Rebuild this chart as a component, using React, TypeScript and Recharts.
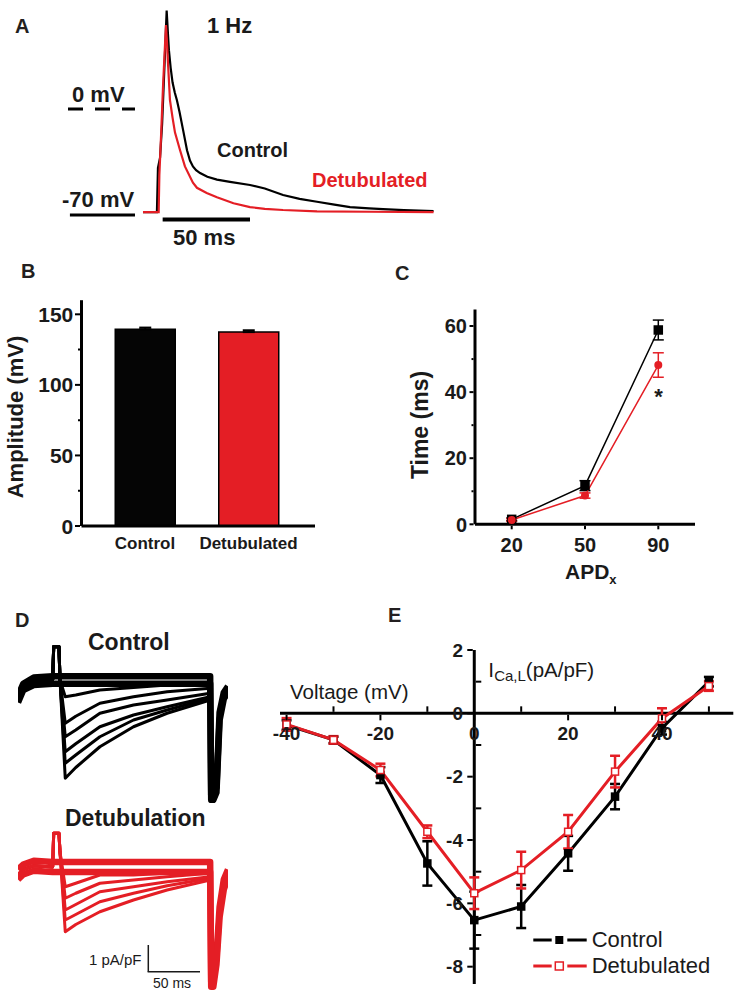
import React from 'react';
import { LineChart, Line, BarChart, Bar, Cell, XAxis, YAxis, ErrorBar, ReferenceLine } from 'recharts';

const FONT = '"Liberation Sans", Arial, Helvetica, sans-serif';
const BLACK = '#000000';
const RED = '#e41e25';
const INK = '#1a1a1a';

// ---------- Panel A: action potential traces (time ms, membrane potential mV)
const apCtrlTime = [0, 8.0, 8.6, 9.8, 11.0, 12.2, 13.6, 14.3, 14.9, 15.9, 17.0, 18.3, 19.5, 21, 23, 25.3, 27, 28.7, 30.5, 32.8, 37, 42.5, 50, 61.5, 70, 80.5, 90, 100, 110, 119, 130, 138, 150, 167];
const apCtrlVolt = [-70, -70, -40, -33, -10, 25, 67, 52, 40, 28, 18, 11, 6, -2, -14, -28, -35, -39, -41.5, -43.5, -46, -48, -49.5, -51.6, -54, -58.4, -61, -63, -65, -66.6, -67.5, -68, -68.7, -69.3];
const apDetTime = [0, 9.0, 9.4, 10.5, 11.5, 12.5, 13.2, 13.8, 14.5, 15.5, 17, 18.4, 21.3, 24.1, 28.7, 31, 36.6, 42.5, 52, 61.5, 70, 80.5, 100, 130, 167];
const apDetVolt = [-70, -70, -45, -15, 15, 40, 57, 45, 28.5, 6, -6, -16, -28, -39, -50, -53.5, -57, -60, -64, -66.6, -67.8, -68.6, -69.5, -69.8, -70];

// ---------- Panel B: amplitude
const groups = ['Control', 'Detubulated'];
const amplitudeMean = [139.4, 137.4];
const amplitudeSem = [1.2, 1.3];
const amplitudeTicks = [0, 25, 50, 75, 100, 125, 150];

// ---------- Panel C: APD
const apdLevels = ['20', '50', '90'];
const apdCtrl = [1.5, 11.7, 58.8];
const apdCtrlSem = [0.4, 1.5, 3.0];
const apdDet = [1.3, 8.7, 48.2];
const apdDetSem = [0.4, 0.8, 3.7];
const apdTicks = [0, 10, 20, 30, 40, 50, 60];

// ---------- Panel D: current sweeps (time ms, pA/pF)
const sweepTime = [0, 5, 15, 33, 34, 39, 40, 45, 55, 78, 110, 142, 183, 184, 186, 189, 192, 196, 200];
const ctrlSweeps = [
  [-0.8, -0.27, -0.07, 0, 1.33, 1.33, 0, -3.93, -3.5, -2.67, -1.87, -1.33, -0.8, -4.8, -4.8, -4.5, -1.5, -0.67, -0.4],
  [-0.8, -0.27, -0.07, 0, 1.33, 1.33, 0, -3.33, -3.0, -2.27, -1.6, -1.2, -0.73, -4.8, -4.8, -4.5, -1.5, -0.67, -0.4],
  [-0.8, -0.27, -0.07, 0, 1.33, 1.33, 0, -2.87, -2.55, -1.87, -1.4, -1.07, -0.67, -4.8, -4.8, -4.5, -1.5, -0.67, -0.4],
  [-0.8, -0.27, -0.07, 0, 1.33, 1.33, 0, -2.27, -2.0, -1.33, -1.0, -0.8, -0.53, -4.8, -4.8, -4.5, -1.5, -0.67, -0.4],
  [-0.8, -0.27, -0.07, 0, 1.33, 1.33, 0, -1.73, -1.45, -0.93, -0.67, -0.47, -0.33, -4.8, -4.8, -4.5, -1.5, -0.67, -0.4],
  [-0.8, -0.27, -0.07, 0, 1.33, 1.33, 0, -0.67, -0.6, -0.4, -0.3, -0.2, -0.13, -4.8, -4.8, -4.5, -1.5, -0.67, -0.4],
  [-0.65, -0.15, 0.1, 0.15, 0.15, 0.15, 0.15, 0.15, 0.15, 0.15, 0.15, 0.15, 0.15, -4.6, -4.6, -4.3, -1.3, -0.5, -0.25],
  [-0.9, -0.4, -0.2, -0.15, -0.15, -0.15, -0.15, -0.15, -0.15, -0.15, -0.15, -0.15, -0.15, -4.8, -4.8, -4.5, -1.6, -0.75, -0.5],
];
const detSweeps = [
  [-0.3, -0.1, 0.05, 0, 1.35, 1.35, 0.6, -2.59, -2.3, -1.79, -1.32, -0.92, -0.52, -4.79, -4.79, -3.8, -1.8, -0.7, -0.25],
  [-0.3, -0.1, 0.05, 0, 1.35, 1.35, 0.6, -2.12, -1.9, -1.39, -1.05, -0.75, -0.45, -4.79, -4.79, -3.8, -1.8, -0.7, -0.25],
  [-0.3, -0.1, 0.05, 0, 1.35, 1.35, 0.6, -1.72, -1.5, -0.99, -0.79, -0.59, -0.39, -4.79, -4.79, -3.8, -1.8, -0.7, -0.25],
  [-0.3, -0.1, 0.05, 0, 1.35, 1.35, 0.6, -1.25, -1.05, -0.65, -0.52, -0.39, -0.25, -4.79, -4.79, -3.8, -1.8, -0.7, -0.25],
  [-0.3, -0.1, 0.05, 0, 1.35, 1.35, 0.6, -0.79, -0.65, -0.32, -0.32, -0.25, -0.19, -4.79, -4.79, -3.8, -1.8, -0.7, -0.25],
  [-0.1, 0.1, 0.25, 0.2, 0.2, 0.2, 0.2, 0.2, 0.2, 0.2, 0.2, 0.2, 0.2, -4.6, -4.6, -3.6, -1.6, -0.5, -0.1],
  [-0.5, -0.3, -0.15, -0.2, -0.2, -0.2, -0.2, -0.2, -0.2, -0.2, -0.2, -0.2, -0.2, -4.79, -4.79, -3.9, -2.0, -0.9, -0.4],
];

// ---------- Panel E: I-V relation
const voltages = [-40, -30, -20, -10, 0, 10, 20, 30, 40, 50];
const ivCtrl = [-0.37, -0.84, -1.95, -4.74, -6.53, -6.1, -4.42, -2.63, -0.47, 1.0];
const ivCtrlSem = [0.15, 0.1, 0.25, 0.7, 0.9, 0.68, 0.55, 0.4, 0.2, 0.15];
const ivDet = [-0.35, -0.84, -1.79, -3.74, -5.68, -4.95, -3.74, -1.84, -0.16, 0.86];
const ivDetSem = [0.2, 0.12, 0.2, 0.2, 0.5, 0.58, 0.53, 0.5, 0.32, 0.15];
const ivXTicks = [-40, -30, -20, -10, 0, 10, 20, 30, 40, 50];
const ivYTicks = [-8, -7, -6, -5, -4, -3, -2, -1, 0, 1, 2];

// ---------- geometry
const E_W = 480;
const E_H = 353;
const E_M = { top: 10, right: 6.7, bottom: 7.9, left: 19 };
const E_XDOM: [number, number] = [-41.4, 55.2];
const E_YDOM: [number, number] = [-8.55, 2];
const E_LEFT = E_M.left + 1;
const E_TOP = E_M.top;
const ePlotW = E_W - E_LEFT - E_M.right;
const ePlotH = E_H - E_TOP - E_M.bottom - 1;
const eZeroX = E_LEFT + ((0 - E_XDOM[0]) / (E_XDOM[1] - E_XDOM[0])) * ePlotW;
const eZeroY = E_TOP + ((E_YDOM[1] - 0) / (E_YDOM[1] - E_YDOM[0])) * ePlotH;

const apCtrlData = apCtrlTime.map((t, i) => ({ t, v: apCtrlVolt[i] }));
const apDetData = apDetTime.map((t, i) => ({ t, v: apDetVolt[i] }));
const ampData = groups.map((g, i) => ({ name: g, value: amplitudeMean[i], err: [0, amplitudeSem[i]] }));
const apdData = apdLevels.map((l, i) => ({ apd: l, ctrl: apdCtrl[i], ctrlErr: apdCtrlSem[i], det: apdDet[i], detErr: apdDetSem[i] }));
const ivData = voltages.map((v, i) => ({ v, ctrl: ivCtrl[i], ctrlErr: ivCtrlSem[i], det: ivDet[i], detErr: ivDetSem[i] }));

function sweepData(sweeps: number[][]) {
  return sweepTime.map((t, i) => {
    const row: Record<string, number> = { t };
    sweeps.forEach((s, k) => { row['s' + k] = s[i]; });
    return row;
  });
}

const BYTick = (p: any) => {
  const v = p.payload.value;
  const major = v % 50 === 0;
  return (
    <g>
      <line x1={p.x - (major ? 6.5 : 3.5)} x2={p.x - 1.5} y1={p.y} y2={p.y} stroke={BLACK} strokeWidth={2} />
      {major && (
        <text x={p.x - 8.2} y={p.y} dy={7.5} textAnchor="end" fontFamily={FONT} fontWeight="bold" fontSize={21} fill={INK}>{v}</text>
      )}
    </g>
  );
};
const BXTick = (p: any) => (
  <text x={p.x} y={p.y + 23} textAnchor="middle" fontFamily={FONT} fontWeight="bold" fontSize={17} fill={INK}>{p.payload.value}</text>
);
const CYTick = (p: any) => {
  const v = p.payload.value;
  const major = v % 20 === 0;
  return (
    <g>
      <line x1={p.x - (major ? 5.5 : 3.5)} x2={p.x - 1.5} y1={p.y} y2={p.y} stroke={BLACK} strokeWidth={2} />
      {major && (
        <text x={p.x - 8} y={p.y} dy={7.2} textAnchor="end" fontFamily={FONT} fontWeight="bold" fontSize={20} fill={INK}>{v}</text>
      )}
    </g>
  );
};
const CXTick = (p: any) => (
  <g>
    <line x1={p.x} x2={p.x} y1={p.y + 1.5} y2={p.y + 5} stroke={BLACK} strokeWidth={2} />
    <text x={p.x} y={p.y + 27.4} textAnchor="middle" fontFamily={FONT} fontWeight="bold" fontSize={20} fill={INK}>{p.payload.value}</text>
  </g>
);
const EXTick = (p: any) => {
  const v = p.payload.value;
  const major = v % 20 === 0;
  return (
    <g>
      <line x1={p.x} x2={p.x} y1={major ? eZeroY + 1.5 : eZeroY - 1.5} y2={major ? eZeroY + 7 : eZeroY - 7} stroke={BLACK} strokeWidth={2} />
      {major && (
        <text x={p.x} y={eZeroY + 26.7} textAnchor="middle" fontFamily={FONT} fontWeight="bold" fontSize={19} fill={INK}>{String(v)}</text>
      )}
    </g>
  );
};
const EYTick = (p: any) => {
  const v = p.payload.value;
  const major = v % 2 === 0;
  return (
    <g>
      <line x1={major ? eZeroX - 7 : eZeroX + 1.5} x2={major ? eZeroX - 1.5 : eZeroX + 7} y1={p.y} y2={p.y} stroke={BLACK} strokeWidth={2} />
      {major && (
        <text x={eZeroX - 11.3} y={p.y} dy={6.7} textAnchor="end" fontFamily={FONT} fontWeight="bold" fontSize={19} fill={INK}>{String(v)}</text>
      )}
    </g>
  );
};

const squareDot = (size: number, fill: string, stroke: string) => (p: any) => {
  if (p.cx == null || p.cy == null) return <g key={`e-${p.index}`} />;
  return <rect key={`sq-${p.index}`} x={p.cx - size / 2} y={p.cy - size / 2} width={size} height={size} fill={fill} stroke={stroke} strokeWidth={1.5} />;
};
const circleDot = (r: number, fill: string) => (p: any) => {
  if (p.cx == null || p.cy == null) return <g key={`e-${p.index}`} />;
  return <circle key={`ci-${p.index}`} cx={p.cx} cy={p.cy} r={r} fill={fill} />;
};

function SweepChart({ top, color, sweeps }: { top: number; color: string; sweeps: number[][] }) {
  const data = sweepData(sweeps);
  return (
    <div style={{ position: 'absolute', left: 18, top }}>
      <LineChart width={210} height={163} data={data} margin={{ top: 0, right: 0, bottom: 0, left: 0 }}>
        <XAxis type="number" dataKey="t" domain={[0, 200]} hide allowDataOverflow />
        <YAxis type="number" domain={[-4.92, 1.6]} hide allowDataOverflow />
        {sweeps.map((s, k) => (
          <Line
            key={k}
            dataKey={'s' + k}
            stroke={color}
            strokeWidth={k >= sweeps.length - 2 ? 6.5 : 3}
            dot={false}
            isAnimationActive={false}
            strokeLinejoin="round"
          />
        ))}
      </LineChart>
    </div>
  );
}

type T = { x: number; y: number; s: number; t: string; b?: boolean; c?: string; anchor?: string };
const texts: T[] = [
  { x: 15, y: 33, s: 20, t: 'A', b: true, c: '#231f20' },
  { x: 207, y: 33, s: 22, t: '1 Hz', b: true },
  { x: 72, y: 101.5, s: 22, t: '0 mV', b: true },
  { x: 62, y: 206.5, s: 22, t: '-70 mV', b: true },
  { x: 217, y: 156.5, s: 20, t: 'Control', b: true },
  { x: 312, y: 186.5, s: 20, t: 'Detubulated', b: true, c: RED },
  { x: 173, y: 245, s: 22, t: '50 ms', b: true },
  { x: 21, y: 278, s: 20, t: 'B', b: true, c: '#231f20' },
  { x: 395, y: 280, s: 20, t: 'C', b: true, c: '#231f20' },
  { x: 658.5, y: 404, s: 22, t: '*', b: true, anchor: 'middle' },
  { x: 15, y: 627, s: 20, t: 'D', b: true, c: '#231f20' },
  { x: 88, y: 650, s: 23, t: 'Control', b: true },
  { x: 65, y: 826, s: 23, t: 'Detubulation', b: true },
  { x: 89, y: 965, s: 15, t: '1 pA/pF' },
  { x: 153, y: 988, s: 14, t: '50 ms' },
  { x: 388, y: 622, s: 20, t: 'E', b: true, c: '#231f20' },
  { x: 290, y: 699, s: 20.5, t: 'Voltage (mV)' },
  { x: 591.7, y: 946.7, s: 22, t: 'Control' },
  { x: 591.7, y: 973.3, s: 22, t: 'Detubulated' },
];

function Overlay() {
  return (
    <svg width={741} height={993} style={{ position: 'absolute', left: 0, top: 0, pointerEvents: 'none' }}>
      {texts.map((d, i) => (
        <text key={i} x={d.x} y={d.y} fontSize={d.s} fontFamily={FONT} fontWeight={d.b ? 'bold' : 'normal'} fill={d.c || INK} textAnchor={(d.anchor as any) || 'start'}>{d.t}</text>
      ))}
      <text x={23} y={417} transform="rotate(-90 23 417)" textAnchor="middle" fontSize={22} fontWeight="bold" fontFamily={FONT} fill={INK}>Amplitude (mV)</text>
      <text x={428} y={425} transform="rotate(-90 428 425)" textAnchor="middle" fontSize={23} fontWeight="bold" fontFamily={FONT} fill={INK}>Time (ms)</text>
      <text x={565} y={579.3} fontSize={21} fontWeight="bold" fontFamily={FONT} fill={INK}>APD<tspan fontSize={13} dy={5}>x</tspan></text>
      <text x={488.3} y={676.7} fontSize={21} fontFamily={FONT} fill={INK}>I<tspan fontSize={15} dy={4}>Ca,L</tspan><tspan fontSize={20.5} dy={-4}>(pA/pF)</tspan></text>
      <line x1={148.3} y1={945} x2={148.3} y2={971.7} stroke={INK} strokeWidth={1.5} />
      <line x1={147.6} y1={971.7} x2={200} y2={971.7} stroke={INK} strokeWidth={1.5} />
      <line x1={533.3} y1={940} x2={551.7} y2={940} stroke={BLACK} strokeWidth={3} />
      <line x1={567.3} y1={940} x2={586.7} y2={940} stroke={BLACK} strokeWidth={3} />
      <rect x={555.3} y={936} width={8} height={8} fill={BLACK} />
      <line x1={533.3} y1={966} x2={551.7} y2={966} stroke={RED} strokeWidth={3} />
      <line x1={567.3} y1={966} x2={586.7} y2={966} stroke={RED} strokeWidth={3} />
      <rect x={555.3} y={962} width={8} height={8} fill="#fff" stroke={RED} strokeWidth={1.5} />
    </svg>
  );
}

export default function App() {
  return (
    <div style={{ position: 'absolute', left: 0, top: 0, width: 741, height: 993, background: '#fff', overflow: 'hidden' }}>
      {/* Panel A */}
      <div style={{ position: 'absolute', left: 60, top: 0 }}>
        <LineChart width={380} height={225} margin={{ top: 0, right: 0, bottom: 0, left: 0 }}>
          <XAxis type="number" dataKey="t" domain={[-47.7, 170.7]} hide allowDataOverflow />
          <YAxis type="number" domain={[-78.8, 74.1]} hide allowDataOverflow />
          <ReferenceLine segment={[{ x: -43.1, y: 0 }, { x: -4.6, y: 0 }]} stroke={BLACK} strokeWidth={3} strokeDasharray="15 12" ifOverflow="visible" />
          <ReferenceLine segment={[{ x: -42, y: -72 }, { x: -4.6, y: -72 }]} stroke={BLACK} strokeWidth={3} ifOverflow="visible" />
          <ReferenceLine segment={[{ x: 11.3, y: -75 }, { x: 61.5, y: -75 }]} stroke={BLACK} strokeWidth={4} ifOverflow="visible" />
          <Line data={apCtrlData} dataKey="v" stroke={BLACK} strokeWidth={2.2} dot={false} isAnimationActive={false} />
          <Line data={apDetData} dataKey="v" stroke={RED} strokeWidth={2.2} dot={false} isAnimationActive={false} />
        </LineChart>
      </div>

      {/* Panel B */}
      <div style={{ position: 'absolute', left: 0, top: 280 }}>
        <BarChart width={330} height={290} data={ampData} margin={{ top: 20.2, right: 15, bottom: 14, left: 21.5 }}>
          <XAxis dataKey="name" height={30} axisLine={{ stroke: BLACK, strokeWidth: 3 }} tickLine={false} tickSize={0} tickMargin={0} interval={0} padding={{ left: 11.75, right: 14.75 }} tick={BXTick} />
          <YAxis width={60} type="number" domain={[0, 160]} ticks={amplitudeTicks} interval={0} axisLine={{ stroke: BLACK, strokeWidth: 3 }} tickLine={false} tickSize={0} tickMargin={0} tick={BYTick} />
          <Bar dataKey="value" barSize={60} isAnimationActive={false} stroke={BLACK} strokeWidth={1.5}>
            {ampData.map((d, i) => (
              <Cell key={d.name} fill={i === 0 ? '#050505' : RED} />
            ))}
            <ErrorBar dataKey="err" width={6} stroke={BLACK} strokeWidth={2} direction="y" />
          </Bar>
        </BarChart>
      </div>

      {/* Panel C */}
      <div style={{ position: 'absolute', left: 380, top: 290 }}>
        <LineChart width={330} height={300} data={apdData} margin={{ top: 19.5, right: 15, bottom: 35.7, left: 35 }}>
          <XAxis dataKey="apd" height={30} axisLine={{ stroke: BLACK, strokeWidth: 3 }} tickLine={false} tickSize={0} tickMargin={0} interval={0} padding={{ left: 36.7, right: 36.7 }} tick={CXTick} />
          <YAxis width={60} type="number" domain={[0, 65]} ticks={apdTicks} interval={0} axisLine={{ stroke: BLACK, strokeWidth: 3 }} tickLine={false} tickSize={0} tickMargin={0} tick={CYTick} />
          <Line dataKey="ctrl" stroke={BLACK} strokeWidth={1.5} dot={squareDot(8, BLACK, BLACK)} isAnimationActive={false}>
            <ErrorBar dataKey="ctrlErr" width={5.5} stroke={BLACK} strokeWidth={1.5} direction="y" />
          </Line>
          <Line dataKey="det" stroke={RED} strokeWidth={1.5} dot={circleDot(4, RED)} isAnimationActive={false}>
            <ErrorBar dataKey="detErr" width={5.5} stroke={RED} strokeWidth={1.5} direction="y" />
          </Line>
        </LineChart>
      </div>

      {/* Panel D */}
      <SweepChart top={640} color={BLACK} sweeps={ctrlSweeps} />
      <SweepChart top={827} color={RED} sweeps={detSweeps} />

      {/* Panel E */}
      <div style={{ position: 'absolute', left: 260, top: 640 }}>
        <LineChart width={E_W} height={E_H} data={ivData} margin={E_M}>
          <XAxis type="number" dataKey="v" domain={E_XDOM} ticks={ivXTicks} interval={0} height={1} axisLine={false} tickLine={false} tickSize={0} tickMargin={0} tick={EXTick} allowDataOverflow />
          <YAxis type="number" domain={E_YDOM} ticks={ivYTicks} interval={0} width={1} axisLine={false} tickLine={false} tickSize={0} tickMargin={0} tick={EYTick} allowDataOverflow />
          <ReferenceLine x={0} stroke={BLACK} strokeWidth={3} />
          <ReferenceLine y={0} stroke={BLACK} strokeWidth={3} />
          <Line dataKey="ctrl" stroke={BLACK} strokeWidth={3} dot={squareDot(7, BLACK, BLACK)} isAnimationActive={false}>
            <ErrorBar dataKey="ctrlErr" width={5} stroke={BLACK} strokeWidth={2.5} direction="y" />
          </Line>
          <Line dataKey="det" stroke={RED} strokeWidth={3} dot={squareDot(7, '#ffffff', RED)} isAnimationActive={false}>
            <ErrorBar dataKey="detErr" width={5} stroke={RED} strokeWidth={2.5} direction="y" />
          </Line>
        </LineChart>
      </div>

      <Overlay />
    </div>
  );
}
